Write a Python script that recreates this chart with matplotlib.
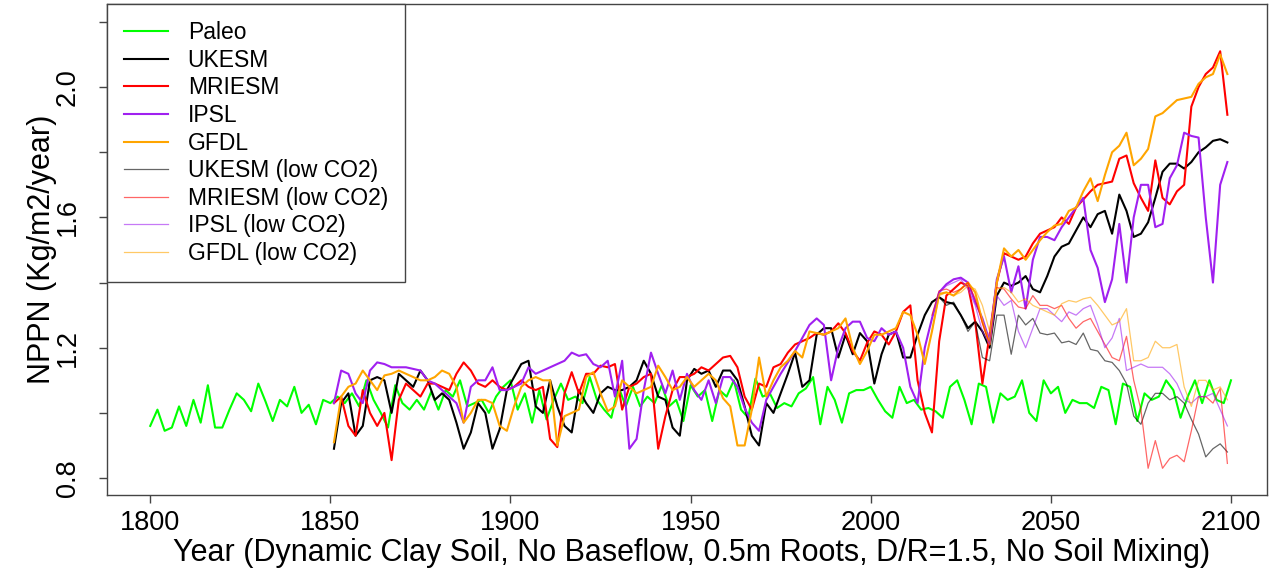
import numpy as np
import matplotlib
matplotlib.use("Agg")
import matplotlib.pyplot as plt

plt.rcParams["font.family"] = ["Liberation Sans", "DejaVu Sans"]

# ---- data ----
paleo_years = np.arange(1800, 2101, 2)
paleo = [0.96, 1.01, 0.945, 0.955, 1.02, 0.96, 1.04, 0.97, 1.085, 0.955,
         0.955, 1.01, 1.06, 1.04, 1.005, 1.09, 1.035, 0.975, 1.04, 1.02,
         1.08, 1.00, 1.025, 0.965, 1.04, 1.03, 1.05, 1.03, 1.06, 1.02,
         1.10, 1.04, 1.00, 0.955, 1.085, 1.03, 1.01, 1.04, 1.01, 1.065,
         1.01, 1.07, 1.05, 1.10, 1.02, 1.03, 1.04, 1.00, 1.05, 1.08,
         1.10, 1.01, 1.06, 0.97, 1.07, 0.98, 1.04, 1.09, 1.04, 1.05,
         1.03, 1.11, 1.04, 1.01, 0.985, 1.08, 1.02, 1.08, 1.02, 1.05,
         1.03, 1.085, 1.02, 1.04, 0.975, 1.085, 1.05, 1.07, 0.975, 1.07,
         1.05, 1.10, 1.01, 0.985, 1.105, 1.05, 1.06, 1.015, 1.03, 1.02,
         1.06, 1.075, 1.11, 0.965, 1.08, 1.04, 0.97, 1.06, 1.07, 1.07,
         1.08, 1.04, 1.005, 0.985, 1.08, 1.03, 1.04, 1.01, 1.015, 1.005,
         0.985, 1.08, 1.10, 1.04, 0.965, 1.09, 1.08, 0.97, 1.06, 1.04,
         1.05, 1.10, 1.00, 0.975, 1.10, 1.06, 1.08, 1.00, 1.04, 1.03,
         1.03, 1.015, 1.08, 1.07, 0.965, 1.09, 1.08, 0.975, 1.06, 1.04,
         1.05, 1.10, 1.07, 0.985, 1.05, 1.10, 1.03, 1.10, 1.04, 1.03,
         1.10]

model_years = np.arange(1851, 2100, 2)
ukesm = [0.89, 1.03, 1.06, 0.93, 0.96, 1.10, 1.11, 1.10, 1.00, 1.12,
         1.10, 1.08, 1.13, 1.10, 1.04, 1.06, 1.04, 0.97, 0.89, 0.94,
         1.03, 1.00, 0.89, 0.95, 1.07, 1.11, 1.15, 1.16, 1.02, 1.00,
         1.10, 1.02, 0.96, 0.94, 1.07, 1.03, 1.00, 1.06, 1.08, 1.07,
         1.07, 1.08, 1.10, 1.16, 1.12, 1.05, 1.04, 0.955, 0.93, 1.10,
         1.135, 1.12, 1.13, 1.08, 1.13, 1.13, 1.10, 1.02, 0.93, 0.90,
         1.03, 1.00, 1.06, 1.12, 1.185, 1.08, 1.10, 1.24, 1.26, 1.26,
         1.17, 1.24, 1.18, 1.245, 1.22, 1.09, 1.18, 1.24, 1.25, 1.17,
         1.17, 1.24, 1.30, 1.34, 1.355, 1.34, 1.335, 1.30, 1.26, 1.28,
         1.25, 1.20, 1.36, 1.40, 1.39, 1.40, 1.42, 1.38, 1.37, 1.42,
         1.48, 1.51, 1.52, 1.56, 1.60, 1.57, 1.61, 1.62, 1.55, 1.67,
         1.62, 1.54, 1.55, 1.585, 1.66, 1.74, 1.765, 1.765, 1.75, 1.77,
         1.80, 1.815, 1.835, 1.84, 1.83]
mriesm = [1.03, 1.05, 0.96, 0.93, 1.07, 1.00, 0.96, 1.00, 0.855, 1.04,
          1.09, 1.07, 1.05, 1.09, 1.09, 1.08, 1.07, 1.12, 1.155, 1.13,
          1.09, 1.08, 1.10, 1.08, 1.07, 1.08, 1.10, 1.08, 1.07, 1.08,
          0.92, 0.895, 1.06, 1.125, 1.06, 1.12, 1.12, 1.145, 1.14, 1.15,
          1.01, 1.08, 1.09, 1.11, 1.12, 0.89, 0.99, 1.07, 1.11, 1.11,
          1.12, 1.14, 1.13, 1.15, 1.17, 1.175, 1.14, 1.05, 1.01, 1.09,
          1.08, 1.14, 1.15, 1.185, 1.21, 1.22, 1.23, 1.245, 1.24, 1.25,
          1.275, 1.245, 1.19, 1.16, 1.215, 1.25, 1.24, 1.21, 1.25, 1.31,
          1.33, 1.10, 1.00, 0.94, 1.22, 1.36, 1.38, 1.40, 1.39, 1.28,
          1.09, 1.24, 1.40, 1.49, 1.48, 1.47, 1.48, 1.52, 1.55, 1.56,
          1.57, 1.60, 1.58, 1.63, 1.655, 1.68, 1.70, 1.705, 1.71, 1.78,
          1.79, 1.705, 1.66, 1.62, 1.775, 1.66, 1.64, 1.68, 1.70, 1.94,
          2.00, 2.04, 2.06, 2.11, 1.915]
ipsl = [1.03, 1.13, 1.12, 1.06, 1.03, 1.13, 1.155, 1.15, 1.14, 1.14,
        1.14, 1.135, 1.13, 1.10, 1.09, 1.07, 1.05, 1.03, 0.97, 1.08,
        1.10, 1.10, 1.14, 1.07, 1.07, 1.08, 1.09, 1.14, 1.12, 1.13,
        1.14, 1.15, 1.16, 1.185, 1.175, 1.18, 1.15, 1.14, 1.16, 1.05,
        1.16, 0.89, 0.92, 1.07, 1.185, 1.12, 1.06, 1.13, 1.04, 1.12,
        1.07, 1.04, 1.10, 1.03, 1.11, 1.11, 1.08, 1.015, 0.97, 0.945,
        1.04, 1.08, 1.12, 1.155, 1.19, 1.23, 1.27, 1.29, 1.27, 1.10,
        1.20, 1.26, 1.28, 1.28, 1.23, 1.22, 1.26, 1.24, 1.25, 1.20,
        1.08, 1.03, 1.20, 1.29, 1.37, 1.395, 1.41, 1.415, 1.40, 1.34,
        1.29, 1.22, 1.41, 1.48, 1.37, 1.45, 1.32, 1.47, 1.54, 1.54,
        1.53, 1.57, 1.60, 1.63, 1.66, 1.50, 1.445, 1.34, 1.41, 1.58,
        1.40, 1.60, 1.70, 1.70, 1.57, 1.58, 1.72, 1.76, 1.86, 1.85,
        1.845, 1.60, 1.40, 1.70, 1.77]
gfdl = [0.91, 1.05, 1.08, 1.09, 1.13, 1.10, 1.07, 1.115, 1.12, 1.13,
        1.12, 1.11, 1.10, 1.10, 1.11, 1.13, 1.12, 1.08, 0.97, 1.00,
        1.04, 1.04, 1.03, 0.96, 0.945, 1.02, 1.08, 1.10, 1.11, 1.10,
        1.10, 0.90, 0.99, 1.00, 1.01, 1.11, 1.125, 1.06, 1.005, 1.02,
        1.10, 1.08, 1.06, 1.07, 1.08, 1.145, 1.11, 1.07, 1.08, 1.11,
        1.08, 1.10, 1.12, 1.10, 1.045, 1.02, 0.90, 0.90, 1.01, 1.17,
        1.05, 1.10, 1.14, 1.16, 1.19, 1.17, 1.25, 1.245, 1.24, 1.25,
        1.26, 1.29, 1.20, 1.15, 1.19, 1.24, 1.24, 1.25, 1.26, 1.31,
        1.30, 1.24, 1.15, 1.25, 1.365, 1.37, 1.36, 1.38, 1.40, 1.37,
        1.28, 1.21, 1.40, 1.505, 1.48, 1.50, 1.47, 1.50, 1.53, 1.555,
        1.575, 1.58, 1.62, 1.63, 1.68, 1.72, 1.65, 1.73, 1.80, 1.82,
        1.86, 1.76, 1.78, 1.81, 1.91, 1.92, 1.94, 1.96, 1.965, 1.97,
        2.01, 2.03, 2.04, 2.10, 2.04]

low_years = np.arange(2017, 2100, 2)
ukesm_low = [1.34, 1.355, 1.33, 1.34, 1.30, 1.25, 1.28, 1.17, 1.16, 1.30,
             1.30, 1.18, 1.30, 1.27, 1.29, 1.245, 1.24, 1.245, 1.215, 1.22,
             1.21, 1.245, 1.195, 1.19, 1.16, 1.155, 1.13, 1.09, 0.99, 0.965,
             1.03, 1.06, 1.06, 1.04, 1.05, 1.03, 0.98, 0.935, 0.865, 0.89,
             0.905, 0.88]
mriesm_low = [1.30, 1.375, 1.38, 1.37, 1.38, 1.40, 1.35, 1.275, 1.21, 1.385,
              1.38, 1.35, 1.325, 1.32, 1.36, 1.33, 1.33, 1.32, 1.33, 1.29,
              1.26, 1.28, 1.29, 1.25, 1.21, 1.17, 1.16, 1.235, 1.10, 1.01,
              0.83, 0.915, 0.83, 0.86, 0.87, 0.85, 0.945, 1.05, 1.05, 1.03,
              1.075, 0.845]
ipsl_low = [1.29, 1.37, 1.39, 1.40, 1.41, 1.38, 1.33, 1.25, 1.21, 1.36,
            1.33, 1.345, 1.25, 1.20, 1.26, 1.32, 1.32, 1.30, 1.28, 1.31,
            1.30, 1.32, 1.33, 1.27, 1.20, 1.23, 1.29, 1.13, 1.14, 1.15,
            1.14, 1.14, 1.14, 1.12, 1.09, 1.04, 1.03, 1.05, 1.05, 1.06,
            1.01, 0.96]
gfdl_low = [1.25, 1.36, 1.37, 1.36, 1.37, 1.39, 1.38, 1.33, 1.25, 1.38,
            1.385, 1.37, 1.34, 1.35, 1.33, 1.32, 1.31, 1.30, 1.335, 1.345,
            1.34, 1.35, 1.355, 1.33, 1.30, 1.27, 1.28, 1.32, 1.16, 1.16,
            1.17, 1.22, 1.20, 1.20, 1.21, 1.08, 1.02, 1.10, 1.10, 1.07,
            1.08, 1.04]

# ---- plot ----
fig = plt.figure(figsize=(12.76, 5.78), dpi=100)
ax = fig.add_axes([107 / 1276, 1 - 495 / 578, 1160 / 1276, 491 / 578])

ax.plot(paleo_years, paleo, color="#00ff00", lw=1.5, label="Paleo")
ax.plot(model_years, ukesm, color="black", lw=1.5, label="UKESM")
ax.plot(model_years, mriesm, color="#ff0000", lw=1.5, label="MRIESM")
ax.plot(model_years, ipsl, color="#a020f0", lw=1.5, label="IPSL")
ax.plot(model_years, gfdl, color="#ffa500", lw=1.5, label="GFDL")
ax.plot(low_years, ukesm_low, color="black", lw=0.9, alpha=0.6, label="UKESM (low CO2)")
ax.plot(low_years, mriesm_low, color="#ff0000", lw=0.9, alpha=0.6, label="MRIESM (low CO2)")
ax.plot(low_years, ipsl_low, color="#a020f0", lw=0.9, alpha=0.6, label="IPSL (low CO2)")
ax.plot(low_years, gfdl_low, color="#ffa500", lw=0.9, alpha=0.6, label="GFDL (low CO2)")

ax.set_xlim(1788, 2110)
ax.set_ylim(0.748, 2.255)
ax.set_xticks([1800, 1850, 1900, 1950, 2000, 2050, 2100])
ax.set_yticks([0.8, 1.0, 1.2, 1.4, 1.6, 1.8, 2.0, 2.2])
ax.set_yticklabels(["0.8", "", "1.2", "", "1.6", "", "2.0", ""])
ax.tick_params(axis="both", labelsize=19.5, length=6, width=1, color="#444444")
ax.tick_params(axis="x", pad=5)
ax.tick_params(axis="y", labelrotation=90, pad=13)
for lab in ax.get_yticklabels():
    lab.set_va("center")
for sp in ax.spines.values():
    sp.set_color("#444444")
    sp.set_linewidth(1)

ax.set_xlabel("Year (Dynamic Clay Soil, No Baseflow, 0.5m Roots, D/R=1.5, No Soil Mixing)",
              fontsize=22)
ax.set_ylabel("NPPN (Kg/m2/year)", fontsize=22)
ax.xaxis.set_label_coords(0.504, -0.088)
ax.yaxis.set_label_coords(-0.043, 0.5)

leg = ax.legend(loc="upper left", bbox_to_anchor=(0, 1), borderaxespad=0,
                fontsize=16.5, fancybox=False, framealpha=1, edgecolor="#444444",
                handlelength=1.9, handletextpad=0.87, labelspacing=0.2,
                borderpad=0.75)
leg.get_frame().set_linewidth(1)

fig.savefig("out.png", dpi=100)
